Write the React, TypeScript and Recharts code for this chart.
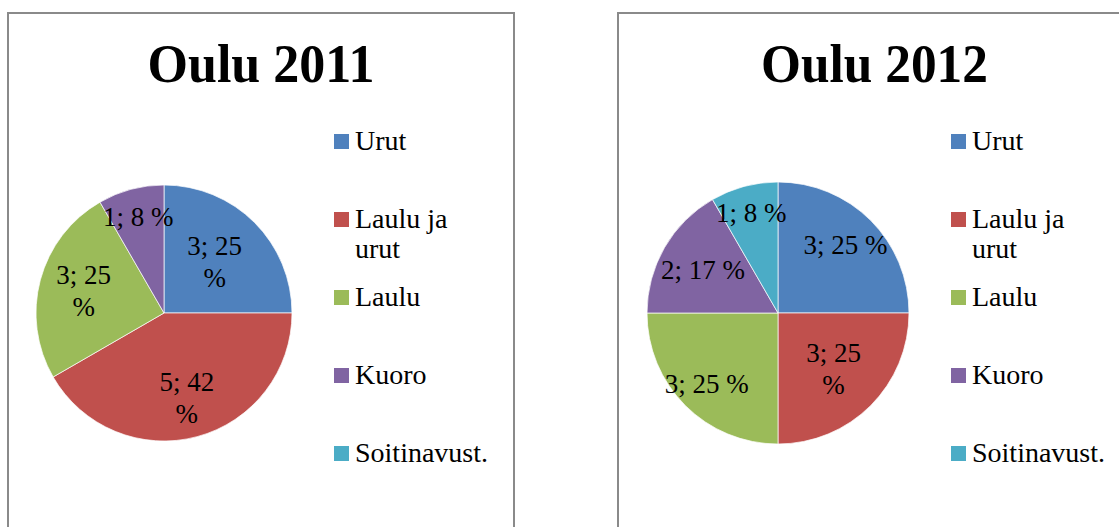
import React from 'react'
import { PieChart, Pie, Cell, Legend } from 'recharts'

const CATEGORIES = ['Urut', 'Laulu ja urut', 'Laulu', 'Kuoro', 'Soitinavust.']
const COLORS = ['#4F81BD', '#C0504D', '#9BBB59', '#8064A2', '#4BACC6']
const VALUES_2011 = [3, 5, 3, 1, 0]
const VALUES_2012 = [3, 3, 3, 2, 1]

// label placement (fraction of radius) and wrapping, per category
const LABELS_2011 = [
  { r: 0.56, wrap: true },
  { r: 0.69, wrap: true },
  { r: 0.65, wrap: true },
  { r: 0.78, wrap: false },
  { r: 0.78, wrap: false },
]
const LABELS_2012 = [
  { r: 0.73, wrap: false },
  { r: 0.6, wrap: true },
  { r: 0.77, wrap: false },
  { r: 0.66, wrap: false },
  { r: 0.79, wrap: false },
]

const FONT = '"Liberation Serif", serif'
const RAD = Math.PI / 180

function LegendList() {
  return (
    <div style={{ position: 'relative', width: 200, height: 5 * 78, fontFamily: FONT }}>
      {CATEGORIES.map((name, i) => (
        <div key={name} style={{ position: 'absolute', top: i * 78, left: 0, display: 'flex', alignItems: 'flex-start' }}>
          <div style={{ width: 15, height: 15, marginTop: 8, background: COLORS[i], flex: 'none' }} />
          <div style={{ marginLeft: 6, width: 138, fontSize: 28, lineHeight: '30px', color: '#000' }}>{name}</div>
        </div>
      ))}
    </div>
  )
}

interface PanelProps {
  title: string
  values: number[]
  layout: { r: number; wrap: boolean }[]
  left: number
  width: number
  cx: number
  cy: number
  radius: number
  legendLeft: number
}

function PiePanel({ title, values, layout, left, width, cx, cy, radius, legendLeft }: PanelProps) {
  const data = CATEGORIES.map((name, i) => ({ name, value: values[i], idx: i })).filter(d => d.value > 0)
  const innerW = width - 4

  const renderLabel = (props: any) => {
    const { cx: x0, cy: y0, midAngle, outerRadius, percent, value, payload } = props
    const idx = payload?.idx ?? props.index
    const cfg = layout[idx]
    const r = outerRadius * cfg.r
    const x = x0 + r * Math.cos(-midAngle * RAD)
    const y = y0 + r * Math.sin(-midAngle * RAD)
    const pct = Math.round(percent * 100)
    const common = { textAnchor: 'middle' as const, fill: '#000', fontSize: 27, fontFamily: FONT }
    if (cfg.wrap) {
      return (
        <text x={x} y={y} {...common}>
          <tspan x={x} y={y - 16} dominantBaseline="central">{`${value}; ${pct}`}</tspan>
          <tspan x={x} y={y + 16} dominantBaseline="central">%</tspan>
        </text>
      )
    }
    return (
      <text x={x} y={y} dominantBaseline="central" {...common}>{`${value}; ${pct} %`}</text>
    )
  }

  return (
    <div
      style={{
        position: 'absolute',
        left,
        top: 12,
        width,
        height: 530,
        border: '2px solid #8a8a8a',
        boxSizing: 'border-box',
        background: '#fff',
      }}
    >
      <PieChart width={innerW} height={526} margin={{ top: 0, right: 0, bottom: 0, left: 0 }}>
        <text
          x={innerW / 2}
          y={68}
          textAnchor="middle"
          fontFamily={FONT}
          fontWeight="bold"
          fontSize={54}
          textLength={227}
          lengthAdjust="spacingAndGlyphs"
          fill="#000"
        >
          {title}
        </text>
        <Pie
          data={data}
          dataKey="value"
          nameKey="name"
          cx={cx}
          cy={cy}
          outerRadius={radius}
          startAngle={90}
          endAngle={-270}
          stroke="#ffffff"
          strokeWidth={0.7}
          labelLine={false}
          label={renderLabel}
          isAnimationActive={false}
        >
          {data.map(d => (
            <Cell key={d.name} fill={COLORS[d.idx]} />
          ))}
        </Pie>
        <Legend
          content={() => <LegendList />}
          wrapperStyle={{ left: legendLeft, top: 112, width: 200, height: 5 * 78 }}
        />
      </PieChart>
    </div>
  )
}

export default function App() {
  return (
    <div
      style={{
        position: 'fixed',
        left: 0,
        top: 0,
        width: 1119,
        height: 527,
        overflow: 'hidden',
        background: '#fff',
      }}
    >
      <PiePanel
        title="Oulu 2011"
        values={VALUES_2011}
        layout={LABELS_2011}
        left={7}
        width={508}
        cx={155}
        cy={299}
        radius={128}
        legendLeft={325}
      />
      <PiePanel
        title="Oulu 2012"
        values={VALUES_2012}
        layout={LABELS_2012}
        left={617}
        width={515}
        cx={159}
        cy={299}
        radius={131}
        legendLeft={332}
      />
    </div>
  )
}
